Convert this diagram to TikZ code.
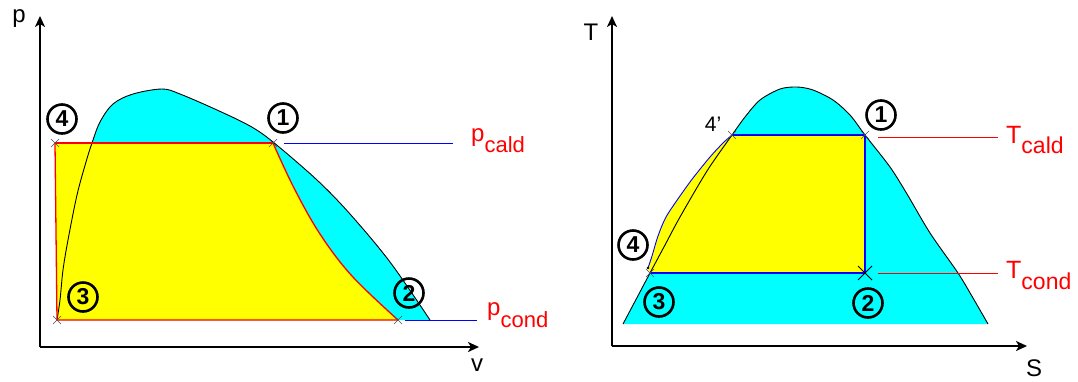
\documentclass[tikz,border=0pt]{standalone}
\usepackage{fontspec}
\setmainfont{Liberation Sans}
\usetikzlibrary{arrows.meta}
\definecolor{cyfill}{HTML}{00FFFF}
\definecolor{yefill}{HTML}{FFFF00}
\definecolor{rd}{HTML}{FF0000}
\definecolor{bl}{HTML}{0000FF}
\begin{document}
\begin{tikzpicture}[x=1pt,y=-1pt,
  axis/.style={line width=2.8pt,-{Stealth[length=11pt,width=10pt,inset=3pt]}},
  domeline/.style={black,line width=0.9pt},
  redcyc/.style={rd,line width=1.3pt},
  bluecyc/.style={bl,line width=1.3pt},
  isoline/.style={bl,line width=1pt},
  redline/.style={rd,line width=1pt},
  num/.style={circle,draw=black,line width=2.6pt,minimum size=29pt,inner sep=0pt,font=\fontsize{23}{23}\selectfont\bfseries},
  axlbl/.style={font=\fontsize{24}{24}\selectfont,inner sep=0pt},
  redlbl/.style={rd,font=\fontsize{24}{24}\selectfont,inner sep=0pt,anchor=base west},
  crs/.style={black!70,line width=0.6pt},
  xm/.pic={\draw[crs] (-4,-4)--(4,4) (-4,4)--(4,-4);},
  xmbig/.pic={\draw[black,line width=0.9pt] (-7,-7)--(7,7) (-7,7)--(7,-7);}
]
\useasboundingbox (0,0) rectangle (1078,381);

% ================= p-v diagram =================
\coordinate (P4) at (55,143);
\coordinate (P1) at (273,143);
\coordinate (P2) at (398,320);
\coordinate (P3) at (57,320);

\fill[cyfill] plot[smooth,tension=0.55] coordinates {(57,320) (60,300) (63,270) (68,240) (77,195) (86,162) (92,143) (100,122) (113,104) (133,94) (162,89) (180,94) (217,110) (250,126) (273,142) (317,180) (350,214) (390,262) (430,320)} -- cycle;
\fill[yefill] (P4) -- (P1) -- plot[smooth,tension=0.6] coordinates {(273,143) (294,188) (320,234) (352,276) (398,320)} -- (P3) -- cycle;
\draw[domeline] plot[smooth,tension=0.55] coordinates {(57,320) (60,300) (63,270) (68,240) (77,195) (86,162) (92,143) (100,122) (113,104) (133,94) (162,89) (180,94) (217,110) (250,126) (273,142) (317,180) (350,214) (390,262) (430,320)};
\draw[redcyc] (P4) -- (P1);
\draw[redcyc] plot[smooth,tension=0.6] coordinates {(273,143) (294,188) (320,234) (352,276) (398,320)};
\draw[redcyc] (P2) -- (P3) -- (P4);

\coordinate (pcaldA) at (284,143);
\coordinate (pcaldB) at (453,143);
\draw[isoline] (pcaldA) -- (pcaldB);
\coordinate (pcondA) at (405,320);
\coordinate (pcondB) at (477,320);
\draw[isoline] (pcondA) -- (pcondB);

\pic at (P4) {xm};
\pic at (P1) {xm};
\pic at (P2) {xm};
\pic at (P3) {xm};

\node[redlbl] (lpcald) at (471,141) {p\raisebox{-11pt}{\fontsize{22}{22}\selectfont cald}};
\node[redlbl] (lpcond) at (487,315) {p\raisebox{-12pt}{\fontsize{22}{22}\selectfont cond}};

\node[num] (n4) at (62,119) {4};
\node[num] (n1) at (283,118) {1};
\node[num] (n3) at (83,297) {3};
\node[num] (n2) at (409,293) {2};

\coordinate (O1) at (40,347);
\coordinate (Y1) at (40,16);
\coordinate (X1) at (479,347);
\draw[axis] (O1) -- (Y1);
\draw[axis] (O1) -- (X1);
\node[axlbl] (lp) at (19,19) {p};
\node[axlbl] (lv) at (477,365) {v};

% ================= T-s diagram =================
\coordinate (T1) at (865,135);
\coordinate (T2) at (865,273);
\coordinate (T3) at (650,273);
\coordinate (T4) at (648,268);
\coordinate (T4p) at (732,135);

\fill[cyfill] (623,324) -- (650,273) -- plot[smooth,tension=0.5] coordinates {(650,273) (665,245) (680,217) (707,171) (732,135) (745,117) (760,100) (780,89) (797,87) (813,90) (833,100) (850,115) (865,135) (890,167) (907,194) (930,233) (958,273) (973,298) (988,324)} -- cycle;
\fill[yefill] plot[smooth,tension=0.5] coordinates {(648,268) (652,256) (658,236) (666,217) (680,196) (693,178) (710,157) (723,143) (732,135)} -- (T1) -- (T2) -- (T3) -- cycle;
\draw[domeline] (623,324) -- (650,273);
\draw[domeline] plot[smooth,tension=0.5] coordinates {(650,273) (665,245) (680,217) (707,171) (732,135) (745,117) (760,100) (780,89) (797,87) (813,90) (833,100) (850,115) (865,135) (890,167) (907,194) (930,233) (958,273) (973,298) (988,324)};
\draw[bl,line width=0.9pt] plot[smooth,tension=0.5] coordinates {(648,268) (652,256) (658,236) (666,217) (680,196) (693,178) (710,157) (723,143) (732,135)};
\draw[bluecyc] (T4p) -- (T1) -- (T2) -- (T3);

\pic at (T4p) {xm};
\pic at (T1) {xm};
\pic at (T3) {xm};
\pic at (T2) {xmbig};
\fill[black] (T4) circle (1.3pt);

\coordinate (tcaldA) at (878,137);
\coordinate (tcaldB) at (998,137);
\draw[redline] (tcaldA) -- (tcaldB);
\coordinate (tcondA) at (878,273);
\coordinate (tcondB) at (998,273);
\draw[redline] (tcondA) -- (tcondB);

\node[redlbl,font=\fontsize{25}{25}\selectfont] (ltcald) at (1006,143) {T\raisebox{-10pt}{\fontsize{23}{23}\selectfont cald}};
\node[redlbl,font=\fontsize{25}{25}\selectfont] (ltcond) at (1006,278) {T\raisebox{-11pt}{\fontsize{23}{23}\selectfont cond}};

\node[font=\fontsize{21}{21}\selectfont,inner sep=0pt] (l4p) at (713,124) {4'};
\node[num] (m1) at (881,115) {1};
\node[num] (m4) at (633,245) {4};
\node[num] (m3) at (659,302) {3};
\node[num] (m2) at (868,303) {2};

\coordinate (O2) at (612,346);
\coordinate (Y2) at (612,16);
\coordinate (X2) at (1027,346);
\draw[axis] (O2) -- (Y2);
\draw[axis] (O2) -- (X2);
\node[axlbl] (lT) at (591,32) {T};
\node[axlbl] (lS) at (1034,368) {S};
\end{tikzpicture}
\end{document}
